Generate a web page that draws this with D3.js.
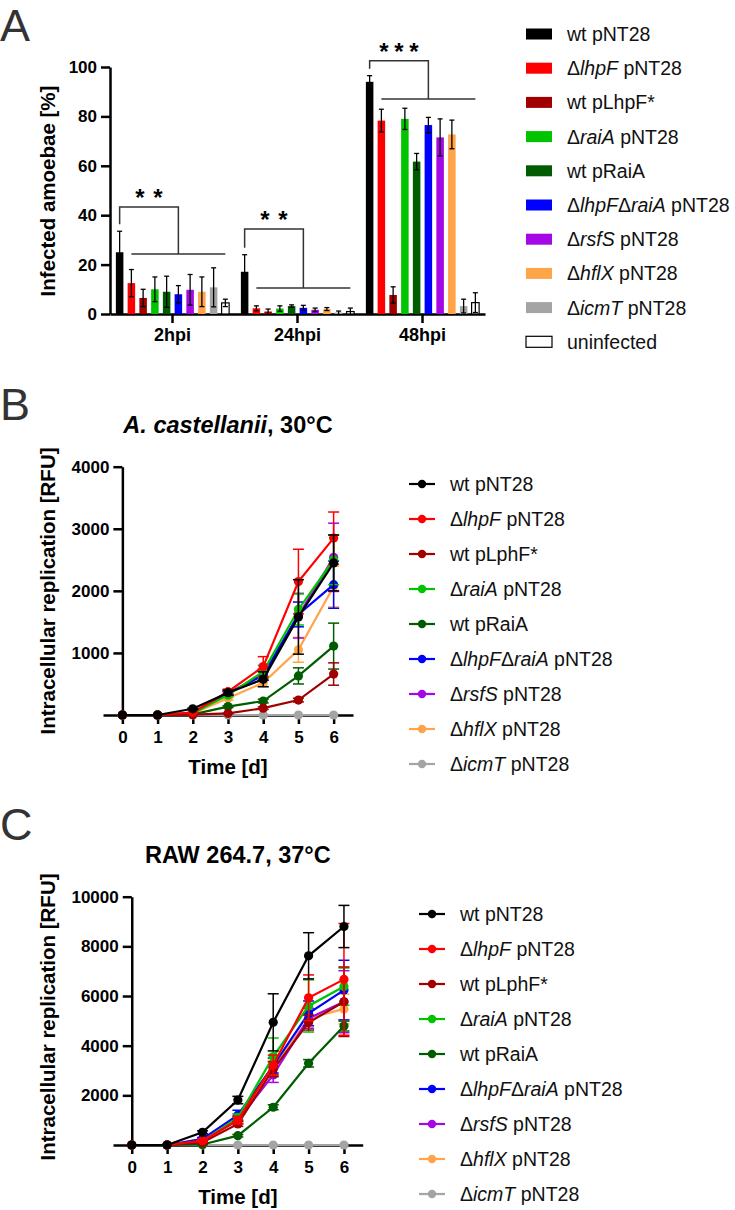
<!DOCTYPE html>
<html>
<head>
<meta charset="utf-8">
<script src="https://cdn.jsdelivr.net/npm/d3@7"></script>
<style>
body { margin: 0; background: #fff; }
svg text { font-family: "Liberation Sans", Arial, sans-serif; }
.axis path, .axis line { stroke: #000; stroke-width: 2.5; }
.axis text { font-family: "Liberation Sans", Arial, sans-serif; font-weight: bold; font-size: 17px; fill: #000; }
.leg { font-size: 19.5px; fill: #111; }
.panel { font-size: 45px; fill: #333; }
.atitle { font-weight: bold; font-size: 20.5px; fill: #000; }
.ptitle { font-weight: bold; font-size: 23.5px; fill: #000; }
</style>
</head>
<body>
<svg width="735" height="1210"></svg>
<script>
// ---- panel A data
var groups = ["2hpi", "24hpi", "48hpi"];
var strainsA = ["wt pNT28", "Δ<i>lhpF</i> pNT28", "wt pLhpF*", "Δ<i>raiA</i> pNT28", "wt pRaiA",
  "Δ<i>lhpF</i>Δ<i>raiA</i> pNT28", "Δ<i>rsfS</i> pNT28", "Δ<i>hflX</i> pNT28", "Δ<i>icmT</i> pNT28", "uninfected"];
var colorsA = ["#000000", "#ff0000", "#a00000", "#00c400", "#005c00", "#0000ff", "#a408e4", "#ffa448", "#a4a4a4", "#ffffff"];
var mean2h = [25, 12.5, 6.5, 10, 9, 8, 9.8, 9, 10.8, 4.5],
    sd2h = [8.5, 5.5, 3.5, 5, 6.3, 3.5, 6.2, 6, 7.9, 1.5];
var mean24h = [17.1, 2.3, 1, 2.2, 3.2, 2.5, 1.7, 2, 0.6, 1],
    sd24h = [6.9, 1, 1, 1.1, 0.5, 1, 0.7, 0.6, 0.6, 1.4];
var mean48h = [94, 78.3, 7.7, 79, 61.7, 76.5, 71.5, 72.7, 3.2, 4.6],
    sd48h = [2.5, 4.6, 3.3, 4.3, 3.3, 3.1, 7.5, 5.8, 2.8, 4];
var yTicksA = [0, 20, 40, 60, 80, 100];
var sigStars = [2, 2, 3],
    sigTop = [43.3, 34.4, 102.5],
    sigLine = [24.3, 10.5, 87];

// ---- panels B and C data
var days = [0, 1, 2, 3, 4, 5, 6];
var strainsL = ["wt pNT28", "Δ<i>lhpF</i> pNT28", "wt pLphF*", "Δ<i>raiA</i> pNT28", "wt pRaiA",
  "Δ<i>lhpF</i>Δ<i>raiA</i> pNT28", "Δ<i>rsfS</i> pNT28", "Δ<i>hflX</i> pNT28", "Δ<i>icmT</i> pNT28"];
var colorsL = colorsA.slice(0, 9);

var meanB = [
  [0, 0, 100, 360, 575, 1580, 2450],
  [0, 0, 40, 375, 780, 2150, 2850],
  [0, 0, 5, 25, 110, 240, 660],
  [0, 0, 30, 320, 700, 1700, 2500],
  [0, 0, 10, 135, 225, 630, 1110],
  [0, 0, 30, 350, 640, 1620, 2100],
  [0, 0, 30, 350, 650, 1600, 2540],
  [0, 0, 25, 270, 520, 1050, 2070],
  [0, 0, 0, 0, 0, 0, 0]
];
var sdB = [
  [0, 0, 10, 40, 120, 600, 450],
  [0, 0, 5, 40, 160, 520, 420],
  [0, 0, 0, 5, 20, 30, 180],
  [0, 0, 5, 30, 100, 250, 400],
  [0, 0, 0, 15, 30, 130, 370],
  [0, 0, 5, 30, 80, 200, 380],
  [0, 0, 5, 30, 90, 360, 550],
  [0, 0, 5, 30, 60, 200, 330],
  [0, 0, 0, 0, 0, 0, 0]
];
var yTicksB = [1000, 2000, 3000, 4000];

var meanC = [
  [0, 0, 510, 1810, 4940, 7620, 8800],
  [0, 0, 175, 1000, 3220, 5930, 6670],
  [0, 0, 100, 850, 3050, 4930, 5770],
  [0, 0, 150, 1100, 3560, 5600, 6380],
  [0, 0, 20, 375, 1520, 3290, 4790],
  [0, 0, 250, 1200, 3200, 5300, 6240],
  [0, 0, 150, 1000, 2820, 5100, 5770],
  [0, 0, 150, 1050, 3100, 5100, 5480],
  [0, 0, 0, 0, 0, 0, 0]
];
var sdC = [
  [0, 0, 60, 150, 1150, 930, 850],
  [0, 0, 50, 150, 400, 920, 2250],
  [0, 0, 30, 100, 300, 300, 1400],
  [0, 0, 40, 150, 750, 1050, 750],
  [0, 0, 10, 50, 100, 150, 200],
  [0, 0, 50, 200, 300, 500, 1200],
  [0, 0, 40, 150, 300, 400, 1250],
  [0, 0, 40, 150, 300, 400, 600],
  [0, 0, 0, 0, 0, 0, 0]
];
var yTicksC = [2000, 4000, 6000, 8000, 10000];

var svg = d3.select("svg");
var fmt = d3.format("d");

// text with <i>..</i> parts as tspans
function rich(sel, str) {
  str.split(/(<i>.*?<\/i>)/).filter(function(s) { return s; }).forEach(function(s) {
    var it = s.indexOf("<i>") == 0;
    sel.append("tspan").style("font-style", it ? "italic" : null).text(it ? s.slice(3, -4) : s);
  });
  return sel;
}

// ================= A
svg.append("text").attr("class", "panel").attr("x", 0).attr("y", 41).text("A");

var x0 = d3.scaleBand().domain(groups).range([110, 485]),
    x1 = d3.scaleBand().domain(d3.range(strainsA.length)).range([0, x0.bandwidth()])
      .paddingInner(0.36).paddingOuter(0.5),
    yA = d3.scaleLinear().domain([0, 100]).range([314, 67]);

var means = [mean2h, mean24h, mean48h], sds = [sd2h, sd24h, sd48h];

var gA = svg.append("g");

gA.append("g").attr("class", "axis").attr("transform", "translate(0,314)")
  .call(d3.axisBottom(x0).tickSize(9).tickSizeOuter(0).tickPadding(5))
  .selectAll("text").style("font-size", "18px");
gA.append("g").attr("class", "axis").attr("transform", "translate(110,0)")
  .call(d3.axisLeft(yA).tickValues(yTicksA).tickFormat(fmt).tickSize(9).tickSizeOuter(0).tickPadding(4));

groups.forEach(function(g, gi) {
  var rows = strainsA.map(function(s, j) { return {j: j, m: means[gi][j], sd: sds[gi][j]}; });
  var grp = gA.append("g").attr("transform", "translate(" + x0(g) + ",0)");
  grp.selectAll("rect").data(rows).enter().append("rect")
    .attr("x", function(d) { return x1(d.j); })
    .attr("y", function(d) { return yA(d.m); })
    .attr("width", x1.bandwidth())
    .attr("height", function(d) { return yA(0) - yA(d.m); })
    .style("fill", function(d) { return colorsA[d.j]; })
    .style("stroke", function(d) { return d.j == 9 ? "#000" : "none"; })
    .style("stroke-width", 1.2);
  var eb = grp.selectAll(".eb").data(rows).enter().append("g").attr("class", "eb")
    .style("stroke", "#000").style("stroke-width", 1.3);
  eb.append("line")
    .attr("x1", function(d) { return x1(d.j) + x1.bandwidth() / 2; })
    .attr("x2", function(d) { return x1(d.j) + x1.bandwidth() / 2; })
    .attr("y1", function(d) { return yA(Math.max(0, d.m - d.sd)); })
    .attr("y2", function(d) { return yA(d.m + d.sd); });
  [1, -1].forEach(function(sg) {
    eb.filter(function(d) { return sg > 0 || d.m - d.sd > 0; }).append("line")
      .attr("x1", function(d) { return x1(d.j) + x1.bandwidth() / 2 - 2.5; })
      .attr("x2", function(d) { return x1(d.j) + x1.bandwidth() / 2 + 2.5; })
      .attr("y1", function(d) { return yA(d.m + sg * d.sd); })
      .attr("y2", function(d) { return yA(d.m + sg * d.sd); });
  });

  // significance bracket
  var c = function(j) { return x0(g) + x1(j) + x1.bandwidth() / 2; };
  var xl = c(0), xa = c(1), xb = c(9), xj = (xa + xb) / 2,
      yBot = yA(means[gi][0] + sds[gi][0]) - 7, yT = yA(sigTop[gi]), yL = yA(sigLine[gi]);
  gA.append("path")
    .attr("d", "M" + xl + "," + yBot + "V" + yT + "H" + xj + "V" + yL)
    .style("fill", "none").style("stroke", "#333").style("stroke-width", 1.5);
  gA.append("line").attr("x1", xa).attr("x2", xb).attr("y1", yL).attr("y2", yL)
    .style("stroke", "#333").style("stroke-width", 1.5);
  var n = sigStars[gi], sp = n == 3 ? 15 : 18, mid = (xl + xj) / 2;
  d3.range(n).forEach(function(k) {
    gA.append("text").attr("x", mid + (k - (n - 1) / 2) * sp).attr("y", yT - 1)
      .attr("text-anchor", "middle")
      .style("font-weight", "bold").style("font-size", "24px")
      .text("*");
  });
});

svg.append("text").attr("class", "atitle").attr("text-anchor", "middle")
  .attr("transform", "translate(55,191) rotate(-90)").text("Infected amoebae [%]");

var legA = svg.append("g").selectAll("g").data(strainsA).enter().append("g")
  .attr("transform", function(d, i) { return "translate(526," + (34 + i * 34.2) + ")"; });
legA.append("rect").attr("x", 0).attr("y", -5.5).attr("width", 26).attr("height", 11)
  .style("fill", function(d, i) { return colorsA[i]; })
  .style("stroke", function(d, i) { return i == 9 ? "#000" : "none"; }).style("stroke-width", 1.2);
legA.append("text").attr("class", "leg").attr("x", 41).attr("y", 7)
  .each(function(d) { rich(d3.select(this), d); });

// ================= B and C
function linePanel(o) {
  var g = svg.append("g");
  g.append("text").attr("class", "panel").attr("x", 0).attr("y", o.labelY).text(o.label);

  var x = d3.scaleLinear().domain(o.xDom).range(o.xRange),
      y = d3.scaleLinear().domain(o.yDom).range(o.yRange);

  rich(g.append("text").attr("class", "ptitle").attr("text-anchor", "middle")
    .attr("x", x(3)).attr("y", o.titleY), o.title);

  g.append("g").attr("class", "axis").attr("transform", "translate(0," + y(0) + ")")
    .call(d3.axisBottom(x).tickValues(days).tickFormat(fmt).tickSize(9).tickSizeOuter(0).tickPadding(7));
  g.append("g").attr("class", "axis").attr("transform", "translate(" + x(0) + ",0)")
    .call(d3.axisLeft(y).tickValues(o.yTicks).tickFormat(fmt).tickSize(9).tickSizeOuter(0).tickPadding(4));

  g.append("text").attr("class", "atitle").attr("text-anchor", "middle")
    .attr("x", x(3)).attr("y", o.xTitleY).text("Time [d]");
  g.append("text").attr("class", "atitle").attr("text-anchor", "middle")
    .attr("transform", "translate(55," + o.yTitleC + ") rotate(-90)").text("Intracellular replication [RFU]");

  var line = d3.line().x(function(d, i) { return x(days[i]); }).y(function(d) { return y(d); });

  // GraphPad draws the last data set first
  d3.range(o.mean.length).reverse().forEach(function(s) {
    var col = colorsL[s], pts = o.mean[s].map(function(m, i) { return {d: days[i], m: m, sd: o.sd[s][i]}; });
    var eb = g.append("g").style("stroke", col).style("stroke-width", 1.5)
      .selectAll("g").data(pts.filter(function(p) { return p.sd > 0; })).enter().append("g");
    eb.append("line")
      .attr("x1", function(p) { return x(p.d); }).attr("x2", function(p) { return x(p.d); })
      .attr("y1", function(p) { return y(Math.max(0, p.m - p.sd)); })
      .attr("y2", function(p) { return y(p.m + p.sd); });
    [1, -1].forEach(function(sg) {
      eb.append("line")
        .attr("x1", function(p) { return x(p.d) - 5.5; }).attr("x2", function(p) { return x(p.d) + 5.5; })
        .attr("y1", function(p) { return y(Math.max(0, p.m + sg * p.sd)); })
        .attr("y2", function(p) { return y(Math.max(0, p.m + sg * p.sd)); });
    });
    g.append("path").datum(o.mean[s]).attr("d", line)
      .style("fill", "none").style("stroke", col).style("stroke-width", 2.2);
    g.append("g").selectAll("circle").data(pts).enter().append("circle")
      .attr("cx", function(p) { return x(p.d); }).attr("cy", function(p) { return y(p.m); })
      .attr("r", 4.6).style("fill", col);
  });

  var leg = g.append("g").selectAll("g").data(strainsL).enter().append("g")
    .attr("transform", function(d, i) { return "translate(" + o.legX + "," + (o.legY + i * 35) + ")"; });
  leg.append("line").attr("x1", 0).attr("x2", 26)
    .style("stroke", function(d, i) { return colorsL[i]; }).style("stroke-width", 2.2);
  leg.append("circle").attr("cx", 13).attr("r", 4.2).style("fill", function(d, i) { return colorsL[i]; });
  leg.append("text").attr("class", "leg").attr("x", 41).attr("y", 7)
    .each(function(d) { rich(d3.select(this), d); });
}

linePanel({
  label: "B", labelY: 420, title: "<i>A. castellanii</i>, 30°C", titleY: 433,
  xDom: [-0.55, 6.55], xRange: [103, 353], yDom: [0, 4000], yRange: [715, 466.7],
  yTicks: yTicksB, xTitleY: 774, yTitleC: 591,
  mean: meanB, sd: sdB, legX: 409, legY: 484
});

linePanel({
  label: "C", labelY: 840, title: "RAW 264.7, 37°C", titleY: 863,
  xDom: [-0.53, 6.53], xRange: [113, 362.7], yDom: [0, 10000], yRange: [1145, 896.7],
  yTicks: yTicksC, xTitleY: 1204, yTitleC: 1017,
  mean: meanC, sd: sdC, legX: 419, legY: 914
});
</script>
</body>
</html>
